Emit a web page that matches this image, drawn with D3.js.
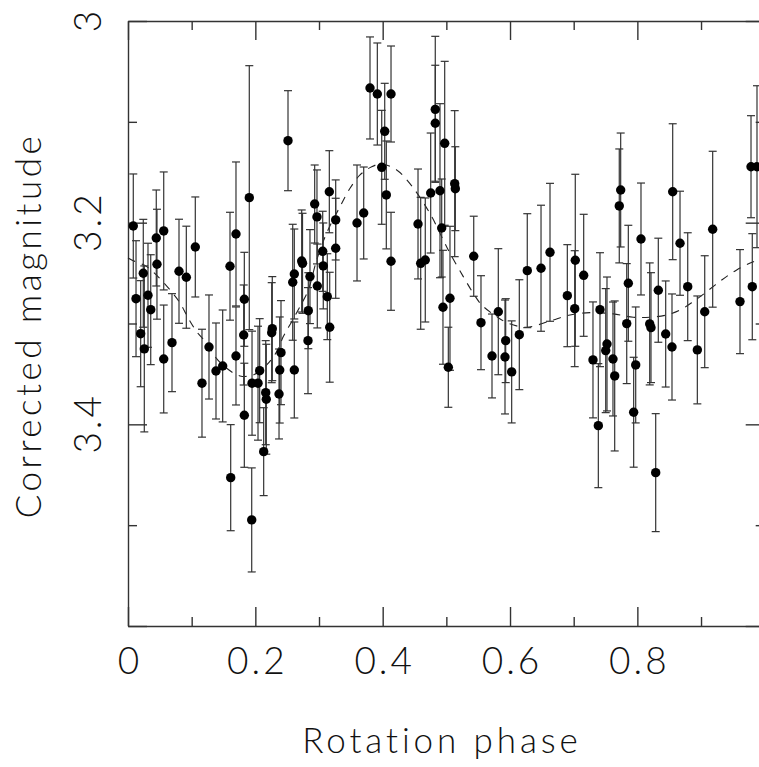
<!DOCTYPE html>
<html>
<head>
<meta charset="utf-8">
<script src="https://cdn.jsdelivr.net/npm/d3@7"></script>
<style>
  html, body { margin: 0; padding: 0; background: #fff; }
  svg { display: block; }
  text { font-family: "Lato", "DejaVu Sans", sans-serif; font-weight: 300; fill: #111; }
</style>
</head>
<body>
<svg id="chart" width="759" height="767"></svg>
<script>
// Rotation phase of each observation
const phase = [
  0.0083,0.0126,0.0199,0.0240,0.0256,0.0314,0.0357,0.0444,0.0455,0.0561,
  0.0561,0.0691,0.0801,0.0916,0.1057,0.1162,0.1272,0.1382,0.1487,0.1602,
  0.1613,0.1696,0.1696,0.1827,0.1817,0.1827,0.1905,0.1943,0.1948,0.2042,
  0.2068,0.2131,0.2163,0.2172,0.2266,0.2257,0.2403,0.2383,0.2372,0.2513,
  0.2587,0.2612,0.2612,0.2728,0.2741,0.2827,0.2832,0.2858,0.2932,0.2968,
  0.2973,0.3058,0.3067,0.3130,0.3162,0.3168,0.3262,0.3262,0.3597,0.3702,
  0.3801,0.3916,0.4131,0.4032,0.3985,0.4057,0.4131,0.4555,0.4597,0.4669,
  0.4754,0.4826,0.4826,0.4900,0.4974,0.4927,0.4947,0.5057,0.5031,0.5131,
  0.5141,0.5430,0.5544,0.5717,0.5816,0.5932,0.5921,0.6026,0.6146,0.6271,
  0.6487,0.6628,0.6900,0.7025,0.7016,0.7157,0.7303,0.7387,0.7413,0.7523,
  0.7503,0.7617,0.7644,0.7716,0.7738,0.7858,0.7833,0.7974,0.7942,0.8057,
  0.8194,0.8214,0.8288,0.8329,0.8445,0.8544,0.8555,0.8670,0.8791,0.8942,
  0.9058,0.9183,0.9612,0.9785,0.9805,0.9879
];
// Corrected magnitude of each observation
const mag = [
  3.2033,3.2754,3.3101,3.2502,3.3252,3.2720,3.2863,3.2152,3.2412,3.2082,
  3.3352,3.3190,3.2482,3.2541,3.2241,3.3592,3.3233,3.3471,3.3421,3.2432,
  3.4529,3.2112,3.3322,3.2760,3.3114,3.3910,3.1752,3.4948,3.3592,3.3592,
  3.3468,3.4271,3.3686,3.3751,3.3051,3.3091,3.3289,3.3461,3.3699,3.1187,
  3.2591,3.2509,3.3461,3.2380,3.2403,3.3170,3.2873,3.2535,3.1815,3.1943,
  3.2628,3.2284,3.2429,3.2734,3.1693,3.3037,3.1973,3.2254,3.2003,3.1904,
  3.0664,3.0724,3.0724,3.1094,3.1451,3.1725,3.2383,3.2013,3.2403,3.2370,
  3.1706,3.0876,3.1014,3.1683,3.1213,3.2053,3.2839,3.2750,3.3434,3.1613,
  3.1663,3.2333,3.2992,3.3322,3.2883,3.3170,3.3332,3.3480,3.3111,3.2476,
  3.2452,3.2294,3.2724,3.2373,3.2853,3.2522,3.3361,3.4013,3.2863,3.3203,
  3.3269,3.3352,3.3520,3.1834,3.1676,3.2601,3.3001,3.3411,3.3880,3.2162,
  3.3004,3.3041,3.4479,3.2670,3.3104,3.3233,3.1693,3.2204,3.2635,3.3262,
  3.2883,3.2065,3.2783,3.1445,3.2635,3.1445
];
// One-sigma uncertainty of each magnitude
const err = [
  0.0516,0.0575,0.0526,0.0535,0.0823,0.0516,0.0545,0.0476,0.0545,0.0585,
  0.0535,0.0486,0.0516,0.0506,0.0496,0.0535,0.0516,0.0476,0.0555,0.0535,
  0.0526,0.0714,0.0486,0.0466,0.0496,0.0516,0.1309,0.0516,0.0516,0.0565,
  0.0516,0.0436,0.0516,0.0545,0.0516,0.0496,0.0516,0.0526,0.0446,0.0496,
  0.0575,0.0446,0.0476,0.0506,0.0496,0.0526,0.0377,0.0466,0.0387,0.0466,
  0.0416,0.0397,0.0426,0.0426,0.0407,0.0545,0.0397,0.0496,0.0575,0.0456,
  0.0506,0.0506,0.0476,0.0476,0.0565,0.0535,0.0486,0.0545,0.0654,0.0615,
  0.0595,0.0724,0.0575,0.0863,0.0813,0.0486,0.0565,0.0714,0.0397,0.0724,
  0.0416,0.0397,0.0466,0.0416,0.0625,0.0416,0.0565,0.0506,0.0545,0.0565,
  0.0625,0.0684,0.0506,0.0853,0.0575,0.0605,0.0575,0.0615,0.0565,0.0664,
  0.0615,0.0565,0.0744,0.0565,0.0565,0.0575,0.0595,0.0575,0.0545,0.0555,
  0.0605,0.0545,0.0585,0.0516,0.0526,0.0526,0.0674,0.0516,0.0535,0.0535,
  0.0555,0.0773,0.0516,0.0506,0.0526,0.0803
];
// Fitted model light curve (dashed)
const modelPhase = [
  0.0000,0.0058,0.0294,0.0471,0.0660,0.0817,0.0947,0.1079,0.1236,0.1366,
  0.1550,0.1759,0.1968,0.2178,0.2335,0.2439,0.2571,0.2701,0.2832,0.2964,
  0.3121,0.3330,0.3487,0.3644,0.3828,0.3985,0.4220,0.4402,0.4559,0.4770,
  0.4952,0.5057,0.5266,0.5423,0.5555,0.5791,0.5973,0.6262,0.6628,0.6942,
  0.7256,0.7622,0.7936,0.8199,0.8461,0.8670,0.8878,0.9089,0.9325,0.9560,
  0.9821,1.0000
];
const modelMag = [
  3.2350,3.2370,3.2436,3.2535,3.2667,3.2796,3.2948,3.3081,3.3196,3.3329,
  3.3444,3.3520,3.3510,3.3411,3.3279,3.3130,3.2982,3.2833,3.2667,3.2370,
  3.2102,3.1841,3.1659,3.1527,3.1445,3.1418,3.1477,3.1593,3.1725,3.1940,
  3.2172,3.2303,3.2535,3.2700,3.2816,3.2932,3.2998,3.3037,3.2975,3.2915,
  3.2892,3.2905,3.2938,3.2938,3.2915,3.2866,3.2783,3.2684,3.2568,3.2469,
  3.2387,3.2350
];
const xMajor = [0, 0.2, 0.4, 0.6, 0.8, 1.0];
const xMinor = [0.1, 0.3, 0.5, 0.7, 0.9];
const xLabels = [0, 0.2, 0.4, 0.6, 0.8];
const yMajor = [3.0, 3.2, 3.4, 3.6];
const yMinor = [3.1, 3.3, 3.5];
const yLabels = [3.0, 3.2, 3.4];

const svg = d3.select("#chart");
const L = 128, R = 764.7, T = 21, B = 626;
const x = d3.scaleLinear().domain([0, 1]).range([L, R]);
const y = d3.scaleLinear().domain([3.0, 3.6]).range([T, B]);

const axisColor = "#333";
const fmt = d => String(d);

function styleAxis(g) {
  g.select(".domain").attr("stroke", axisColor).attr("stroke-width", 1.4);
  g.selectAll(".tick line").attr("stroke", axisColor).attr("stroke-width", 1.4);
}

// frame + ticks
const gB = svg.append("g").attr("transform", `translate(0,${B})`)
  .call(d3.axisBottom(x).tickValues(xMajor).tickSizeInner(-19).tickSizeOuter(0).tickFormat(""));
styleAxis(gB);
const gBm = svg.append("g").attr("transform", `translate(0,${B})`)
  .call(d3.axisBottom(x).tickValues(xMinor).tickSizeInner(-9).tickSizeOuter(0).tickFormat(""));
styleAxis(gBm); gBm.select(".domain").remove();

const gT = svg.append("g").attr("transform", `translate(0,${T})`)
  .call(d3.axisTop(x).tickValues(xMajor).tickSizeInner(-19).tickSizeOuter(0).tickFormat(""));
styleAxis(gT);
const gTm = svg.append("g").attr("transform", `translate(0,${T})`)
  .call(d3.axisTop(x).tickValues(xMinor).tickSizeInner(-9).tickSizeOuter(0).tickFormat(""));
styleAxis(gTm); gTm.select(".domain").remove();

const gL = svg.append("g").attr("transform", `translate(${L},0)`)
  .call(d3.axisLeft(y).tickValues(yMajor).tickSizeInner(-19).tickSizeOuter(0).tickFormat(""));
styleAxis(gL);
const gLm = svg.append("g").attr("transform", `translate(${L},0)`)
  .call(d3.axisLeft(y).tickValues(yMinor).tickSizeInner(-9).tickSizeOuter(0).tickFormat(""));
styleAxis(gLm); gLm.select(".domain").remove();

const gR = svg.append("g").attr("transform", `translate(${R},0)`)
  .call(d3.axisRight(y).tickValues(yMajor).tickSizeInner(-19).tickSizeOuter(0).tickFormat(""));
styleAxis(gR);
const gRm = svg.append("g").attr("transform", `translate(${R},0)`)
  .call(d3.axisRight(y).tickValues(yMinor).tickSizeInner(-9).tickSizeOuter(0).tickFormat(""));
styleAxis(gRm); gRm.select(".domain").remove();

// tick labels via axes (no lines)
const gBl = svg.append("g").attr("transform", `translate(0,${B})`)
  .call(d3.axisBottom(x).tickValues(xLabels).tickSize(0).tickPadding(0).tickFormat(fmt));
gBl.select(".domain").remove();
gBl.selectAll(".tick text")
  .attr("x", 1.5).attr("y", 48).attr("dy", null)
  .attr("font-size", 37).attr("font-family", null).attr("fill", "#111")
  .style("letter-spacing", "3px");

const gLl = svg.append("g").attr("transform", `translate(${L},0)`)
  .call(d3.axisLeft(y).tickValues(yLabels).tickSize(0).tickPadding(0).tickFormat(fmt));
gLl.select(".domain").remove();
gLl.selectAll(".tick text")
  .attr("x", null).attr("dy", null)
  .attr("text-anchor", "middle")
  .attr("transform", "translate(-27,0) rotate(-90) translate(1.5,0)")
  .attr("font-size", 37).attr("font-family", null).attr("fill", "#111")
  .style("letter-spacing", "3px");

// axis titles
svg.append("text")
  .attr("x", 442).attr("y", 753)
  .attr("text-anchor", "middle").attr("font-size", 35)
  .style("letter-spacing", "3.9px")
  .text("Rotation phase");
svg.append("text")
  .attr("transform", `translate(41,${(T + B) / 2 + 2}) rotate(-90)`)
  .attr("text-anchor", "middle").attr("font-size", 35)
  .style("letter-spacing", "3.5px")
  .text("Corrected magnitude");

// data
const pts = phase.map((p, i) => ({ p, m: mag[i], e: err[i] }));
const plot = svg.append("g");

// model curve
const line = d3.line().x((d, i) => x(modelPhase[i])).y(d => y(d)).curve(d3.curveCatmullRom);
plot.append("path")
  .attr("d", line(modelMag))
  .attr("fill", "none").attr("stroke", "#222").attr("stroke-width", 1.1)
  .attr("stroke-dasharray", "8,7");

// error bars
const eb = plot.append("g").attr("stroke", "#333").attr("stroke-width", 1.2);
eb.selectAll("line.v").data(pts).join("line").attr("class", "v")
  .attr("x1", d => x(d.p)).attr("x2", d => x(d.p))
  .attr("y1", d => y(d.m - d.e)).attr("y2", d => y(d.m + d.e));
eb.selectAll("line.t").data(pts).join("line").attr("class", "t")
  .attr("x1", d => x(d.p) - 4).attr("x2", d => x(d.p) + 4)
  .attr("y1", d => y(d.m - d.e)).attr("y2", d => y(d.m - d.e));
eb.selectAll("line.b").data(pts).join("line").attr("class", "b")
  .attr("x1", d => x(d.p) - 4).attr("x2", d => x(d.p) + 4)
  .attr("y1", d => y(d.m + d.e)).attr("y2", d => y(d.m + d.e));

// points
plot.selectAll("circle").data(pts).join("circle")
  .attr("cx", d => x(d.p)).attr("cy", d => y(d.m)).attr("r", 4.7)
  .attr("fill", "#000");
</script>
</body>
</html>
